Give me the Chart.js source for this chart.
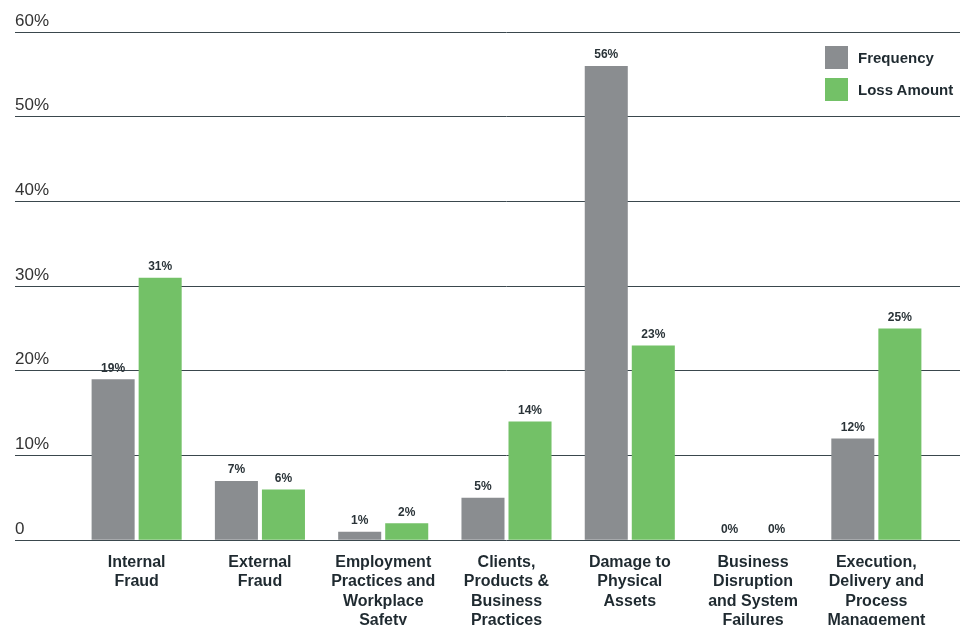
<!DOCTYPE html>
<html><head><meta charset="utf-8">
<script src="https://cdn.jsdelivr.net/npm/chart.js@4.4.0/dist/chart.umd.min.js"></script>
<style>
html,body{margin:0;padding:0;background:#fff;overflow:hidden;}
#wrap{position:relative;width:960px;height:660px;}
#legend{position:absolute;left:825px;top:46px;font:bold 15px "Liberation Sans",Arial,sans-serif;color:#1f2a30;}
.li{display:flex;align-items:center;height:23px;margin-bottom:9px;white-space:nowrap;}
.sw{width:23px;height:23px;margin-right:10px;flex:none;}
</style></head><body>
<div id="wrap"><canvas id="c" width="960" height="660"></canvas><div id="legend"></div></div>
<script>
const categories = [
  ["Internal","Fraud"],
  ["External","Fraud"],
  ["Employment","Practices and","Workplace","Safety"],
  ["Clients,","Products &","Business","Practices"],
  ["Damage to","Physical","Assets"],
  ["Business","Disruption","and System","Failures"],
  ["Execution,","Delivery and","Process","Management"]
];
const frequency = [19, 7, 1, 5, 56, 0, 12];
const lossAmount = [31, 6, 2, 14, 23, 0, 25];
const seriesNames = ["Frequency", "Loss Amount"];
const seriesColors = ["#8a8d90", "#73c167"];
const yTickValues = [0, 10, 20, 30, 40, 50, 60];

const FONT = '"Liberation Sans", Arial, sans-serif';
const GRID = '#3a474d';

const valueLabels = {
  id: 'valueLabels',
  afterDatasetsDraw(chart) {
    const ctx = chart.ctx;
    ctx.save();
    ctx.font = 'bold 12px ' + FONT;
    ctx.fillStyle = '#2a3338';
    ctx.textAlign = 'center';
    ctx.textBaseline = 'middle';
    chart.data.datasets.forEach((ds, i) => {
      chart.getDatasetMeta(i).data.forEach((bar, j) => {
        ctx.fillText(ds.data[j] + '%', bar.x, bar.y - 11);
      });
    });
    ctx.restore();
  }
};

const chart = new Chart(document.getElementById('c'), {
  type: 'bar',
  data: {
    labels: categories,
    datasets: [
      { label: seriesNames[0], data: frequency, backgroundColor: seriesColors[0], barPercentage: 0.915, categoryPercentage: 0.763 },
      { label: seriesNames[1], data: lossAmount, backgroundColor: seriesColors[1], barPercentage: 0.915, categoryPercentage: 0.763 }
    ]
  },
  options: {
    responsive: false,
    devicePixelRatio: 1,
    animation: false,
    layout: { padding: { left: 15, right: 0, top: 32, bottom: 25 } },
    plugins: { legend: { display: false }, tooltip: { enabled: false } },
    scales: {
      x: {
        grid: { display: false },
        border: { display: false },
        ticks: { autoSkip: false, maxRotation: 0, minRotation: 0, padding: 5,
          font: { family: FONT, size: 16, weight: 'bold', lineHeight: 1.2 }, color: '#1f2a30' }
      },
      y: {
        min: 0, max: 60,
        afterBuildTicks: s => { s.ticks = yTickValues.map(v => ({ value: v })); },
        ticks: { callback: v => v === 0 ? '0' : v + '%', crossAlign: 'far', labelOffset: -11, padding: 0,
          font: { family: FONT, size: 17 }, color: '#333' },
        grid: { color: GRID, lineWidth: 1, drawTicks: true, tickLength: 60, tickColor: GRID },
        border: { display: false },
        afterFit: s => { s.width = 60; }
      },
      y2: {
        position: 'right', min: 0, max: 60,
        afterBuildTicks: s => { s.ticks = yTickValues.map(v => ({ value: v })); },
        ticks: { display: false },
        grid: { drawOnChartArea: false, drawTicks: true, tickLength: 22, color: GRID, tickColor: GRID },
        border: { display: false },
        afterFit: s => { s.width = 22; }
      }
    }
  },
  plugins: [valueLabels]
});

const legend = document.getElementById('legend');
chart.data.datasets.forEach(ds => {
  const row = document.createElement('div'); row.className = 'li';
  const sw = document.createElement('span'); sw.className = 'sw'; sw.style.background = ds.backgroundColor;
  const tx = document.createElement('span'); tx.textContent = ds.label;
  row.appendChild(sw); row.appendChild(tx); legend.appendChild(row);
});
</script>
</body></html>
